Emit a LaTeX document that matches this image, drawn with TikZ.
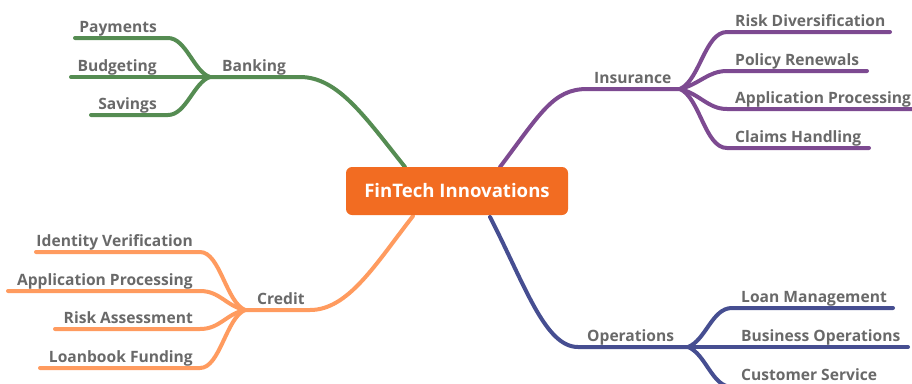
\documentclass[tikz,border=0pt]{standalone}
\usepackage{fontspec}
\setmainfont{Open Sans}
\usetikzlibrary{backgrounds}
\definecolor{cgreen}{RGB}{85,140,82}
\definecolor{cpurple}{RGB}{125,74,145}
\definecolor{cnavy}{RGB}{70,78,145}
\definecolor{clight}{RGB}{255,155,95}
\definecolor{corange}{RGB}{242,108,34}
\definecolor{ctext}{RGB}{105,105,105}
\tikzset{
  lbl/.style={inner sep=0pt, text=ctext, font=\fontsize{15.6}{18}\selectfont\bfseries},
  lblL/.style={lbl, anchor=base east},
  lblR/.style={lbl, anchor=base west},
  br/.style={line width=4pt, line cap=round},
  central/.style={fill=corange, rounded corners=6pt, minimum width=222pt, minimum height=48pt, text=white, font=\fontsize{18.6}{22}\selectfont\bfseries, inner sep=0pt}
}
\begin{document}
\begin{tikzpicture}[x=1pt,y=-1pt]
\useasboundingbox (0,0) rectangle (912,383);
\clip (0,0) rectangle (912,383);
\node[central] (root) at (457,191) {FinTech Innovations};
% coordinates
\coordinate (bkS) at (405,167);
\coordinate (bkJ) at (210,77);
\coordinate (bkE) at (300,77);
\coordinate (inS) at (500,167);
\coordinate (inE) at (587,89);
\coordinate (inJ) at (680,89);
\coordinate (crS) at (413,216);
\coordinate (crE) at (310,310);
\coordinate (crJ) at (245,310);
\coordinate (opS) at (490,217);
\coordinate (opE) at (578,347);
\coordinate (opJ) at (688,347);
% labels
\node[lblR] (banking) at (222,71) {Banking};
\node[lblL] (payments) at (157,32) {Payments};
\node[lblL] (budgeting) at (157,71) {Budgeting};
\node[lblL] (savings) at (157,109) {Savings};
\node[lblR] (insurance) at (594,83) {Insurance};
\node[lblR] (riskdiv) at (735,26) {Risk Diversification};
\node[lblR] (policy) at (735,65) {Policy Renewals};
\node[lblR] (appins) at (735,103) {Application Processing};
\node[lblR] (claims) at (735,142) {Claims Handling};
\node[lblR] (credit) at (257,304) {Credit};
\node[lblL] (identity) at (193,246) {Identity Verification};
\node[lblL] (appcr) at (193,285) {Application Processing};
\node[lblL] (riskass) at (193,323) {Risk Assessment};
\node[lblL] (loanbook) at (193,362) {Loanbook Funding};
\node[lblR] (operations) at (587,341) {Operations};
\node[lblR] (loanmgmt) at (741,302) {Loan Management};
\node[lblR] (busops) at (741,341) {Business Operations};
\node[lblR] (custserv) at (741,380) {Customer Service};
\begin{scope}[on background layer]
% Banking
\draw[br, cgreen] (bkS) .. controls (365,117) and (338,77) .. (bkE) -- (bkJ);
\draw[br, cgreen] (bkJ) .. controls (194,72) and (186,38) .. (168,38) -- (75,38);
\draw[br, cgreen] (bkJ) -- (71,77);
\draw[br, cgreen] (bkJ) .. controls (194,82) and (186,115) .. (168,115) -- (91,115);
% Insurance
\draw[br, cpurple] (inS) .. controls (540,114) and (553,89) .. (inE) -- (inJ);
\draw[br, cpurple] (inJ) .. controls (700,80) and (705,32) .. (727,32) -- (890,32);
\draw[br, cpurple] (inJ) .. controls (700,84) and (708,71) .. (727,71) -- (867,71);
\draw[br, cpurple] (inJ) .. controls (700,94) and (708,109) .. (727,109) -- (914,109);
\draw[br, cpurple] (inJ) .. controls (700,98) and (705,148) .. (727,148) -- (869,148);
% Credit
\draw[br, clight] (crS) .. controls (375,265) and (348,310) .. (crE) -- (crJ);
\draw[br, clight] (crJ) .. controls (226,302) and (220,252) .. (200,252) -- (36,252);
\draw[br, clight] (crJ) .. controls (226,306) and (220,291) .. (200,291) -- (8,291);
\draw[br, clight] (crJ) .. controls (226,314) and (220,329) .. (200,329) -- (55,329);
\draw[br, clight] (crJ) .. controls (226,318) and (220,368) .. (200,368) -- (40,368);
% Operations
\draw[br, cnavy] (opS) .. controls (525,285) and (545,347) .. (opE) -- (opJ);
\draw[br, cnavy] (opJ) .. controls (706,340) and (712,308) .. (732,308) -- (893,308);
\draw[br, cnavy] (opJ) -- (908,347);
\draw[br, cnavy] (opJ) .. controls (706,354) and (712,387) .. (732,387) -- (890,387);
\end{scope}
\end{tikzpicture}
\end{document}
